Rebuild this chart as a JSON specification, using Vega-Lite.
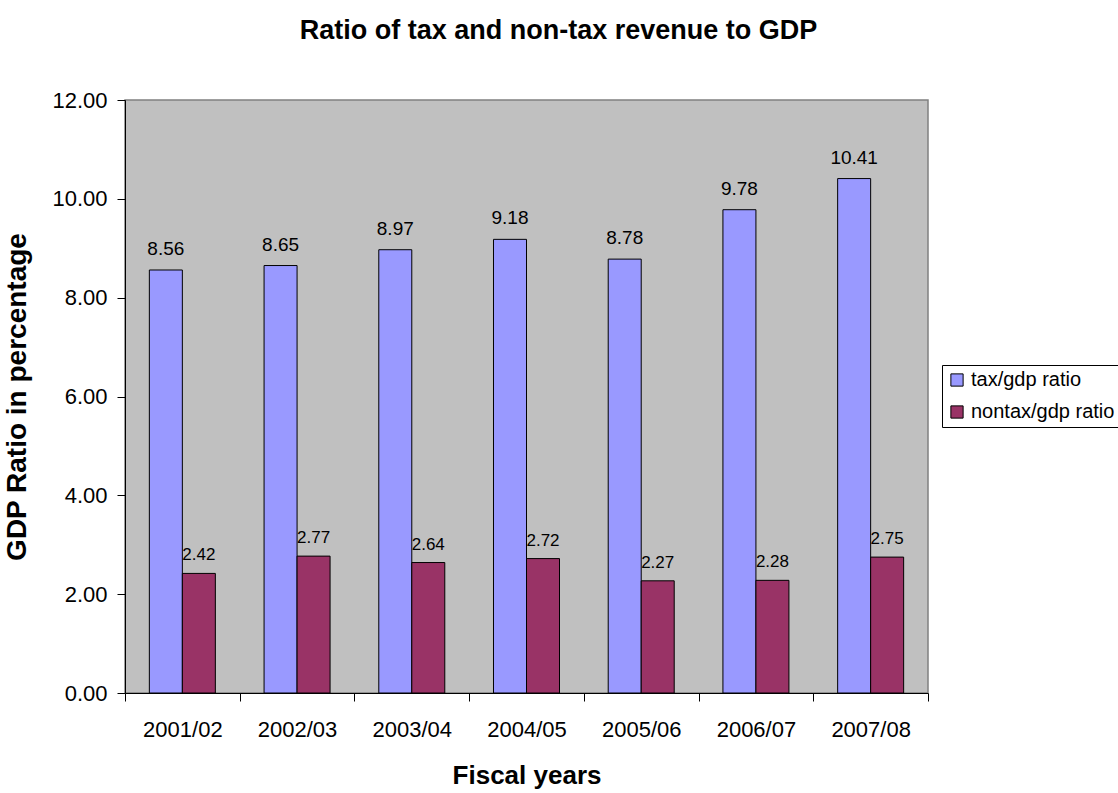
{
  "$schema": "https://vega.github.io/schema/vega-lite/v6.json",
  "width": 803,
  "height": 593,
  "autosize": {"type": "none"},
  "padding": {"left": 125, "top": 100, "right": 190, "bottom": 100},
  "background": "white",
  "title": {
    "text": "Ratio of tax and non-tax revenue to GDP",
    "font": "Liberation Sans",
    "fontSize": 27,
    "fontWeight": "bold",
    "color": "black",
    "anchor": "middle",
    "dx": 32,
    "offset": 44
  },
  "config": {
    "font": "Liberation Sans",
    "view": {"fill": "#C0C0C0", "stroke": "#808080", "strokeWidth": 1.5}
  },
  "data": {
    "values": [
      {"year": "2001/02", "series": "tax/gdp ratio", "value": 8.56},
      {"year": "2002/03", "series": "tax/gdp ratio", "value": 8.65},
      {"year": "2003/04", "series": "tax/gdp ratio", "value": 8.97},
      {"year": "2004/05", "series": "tax/gdp ratio", "value": 9.18},
      {"year": "2005/06", "series": "tax/gdp ratio", "value": 8.78},
      {"year": "2006/07", "series": "tax/gdp ratio", "value": 9.78},
      {"year": "2007/08", "series": "tax/gdp ratio", "value": 10.41},
      {"year": "2001/02", "series": "nontax/gdp ratio", "value": 2.42},
      {"year": "2002/03", "series": "nontax/gdp ratio", "value": 2.77},
      {"year": "2003/04", "series": "nontax/gdp ratio", "value": 2.64},
      {"year": "2004/05", "series": "nontax/gdp ratio", "value": 2.72},
      {"year": "2005/06", "series": "nontax/gdp ratio", "value": 2.27},
      {"year": "2006/07", "series": "nontax/gdp ratio", "value": 2.28},
      {"year": "2007/08", "series": "nontax/gdp ratio", "value": 2.75}
    ]
  },
  "encoding": {
    "x": {
      "field": "year",
      "type": "nominal",
      "scale": {"paddingInner": 0, "paddingOuter": 0},
      "axis": {
        "title": "Fiscal years",
        "labelAngle": 0,
        "tickBand": "extent",
        "domainColor": "black",
        "domainWidth": 1,
        "tickColor": "black",
        "tickSize": 8,
        "labelFontSize": 22,
        "labelColor": "black",
        "labelPadding": 18,
        "titleFontSize": 26,
        "titleFontWeight": "bold",
        "titleColor": "black",
        "titlePadding": 22
      }
    },
    "xOffset": {
      "field": "series",
      "type": "nominal",
      "sort": ["tax/gdp ratio", "nontax/gdp ratio"],
      "scale": {"paddingInner": 0, "paddingOuter": 0.738}
    },
    "y": {
      "field": "value",
      "type": "quantitative",
      "scale": {"domain": [0, 12], "nice": false},
      "axis": {
        "title": "GDP Ratio in percentage",
        "values": [0, 2, 4, 6, 8, 10, 12],
        "format": ".2f",
        "grid": false,
        "domainColor": "black",
        "domainWidth": 1,
        "tickColor": "black",
        "tickSize": 8,
        "labelFontSize": 22,
        "labelColor": "black",
        "labelPadding": 10,
        "titleFontSize": 28,
        "titleFontWeight": "bold",
        "titleColor": "black",
        "titlePadding": 20
      }
    }
  },
  "layer": [
    {
      "mark": {"type": "bar", "stroke": "black", "strokeWidth": 1},
      "encoding": {
        "color": {
          "field": "series",
          "type": "nominal",
          "sort": ["tax/gdp ratio", "nontax/gdp ratio"],
          "scale": {"domain": ["tax/gdp ratio", "nontax/gdp ratio"], "range": ["#9999FF", "#993366"]},
          "legend": {
            "title": null,
            "orient": "none",
            "legendX": 817,
            "legendY": 265,
            "padding": 5,
            "strokeColor": "black",
            "fillColor": "white",
            "labelFontSize": 20,
            "labelColor": "black",
            "labelOffset": 4,
            "symbolType": "square",
            "symbolSize": 150,
            "symbolStrokeColor": "black",
            "symbolStrokeWidth": 1,
            "rowPadding": 12
          }
        }
      }
    },
    {
      "transform": [{"filter": "datum.series == 'tax/gdp ratio'"}],
      "mark": {"type": "text", "fontSize": 19, "baseline": "alphabetic", "dy": -15, "color": "black"},
      "encoding": {"text": {"field": "value", "type": "quantitative", "format": ".2f"}}
    },
    {
      "transform": [{"filter": "datum.series == 'nontax/gdp ratio'"}],
      "mark": {"type": "text", "fontSize": 17, "baseline": "alphabetic", "dy": -13, "color": "black"},
      "encoding": {"text": {"field": "value", "type": "quantitative", "format": ".2f"}}
    }
  ]
}
